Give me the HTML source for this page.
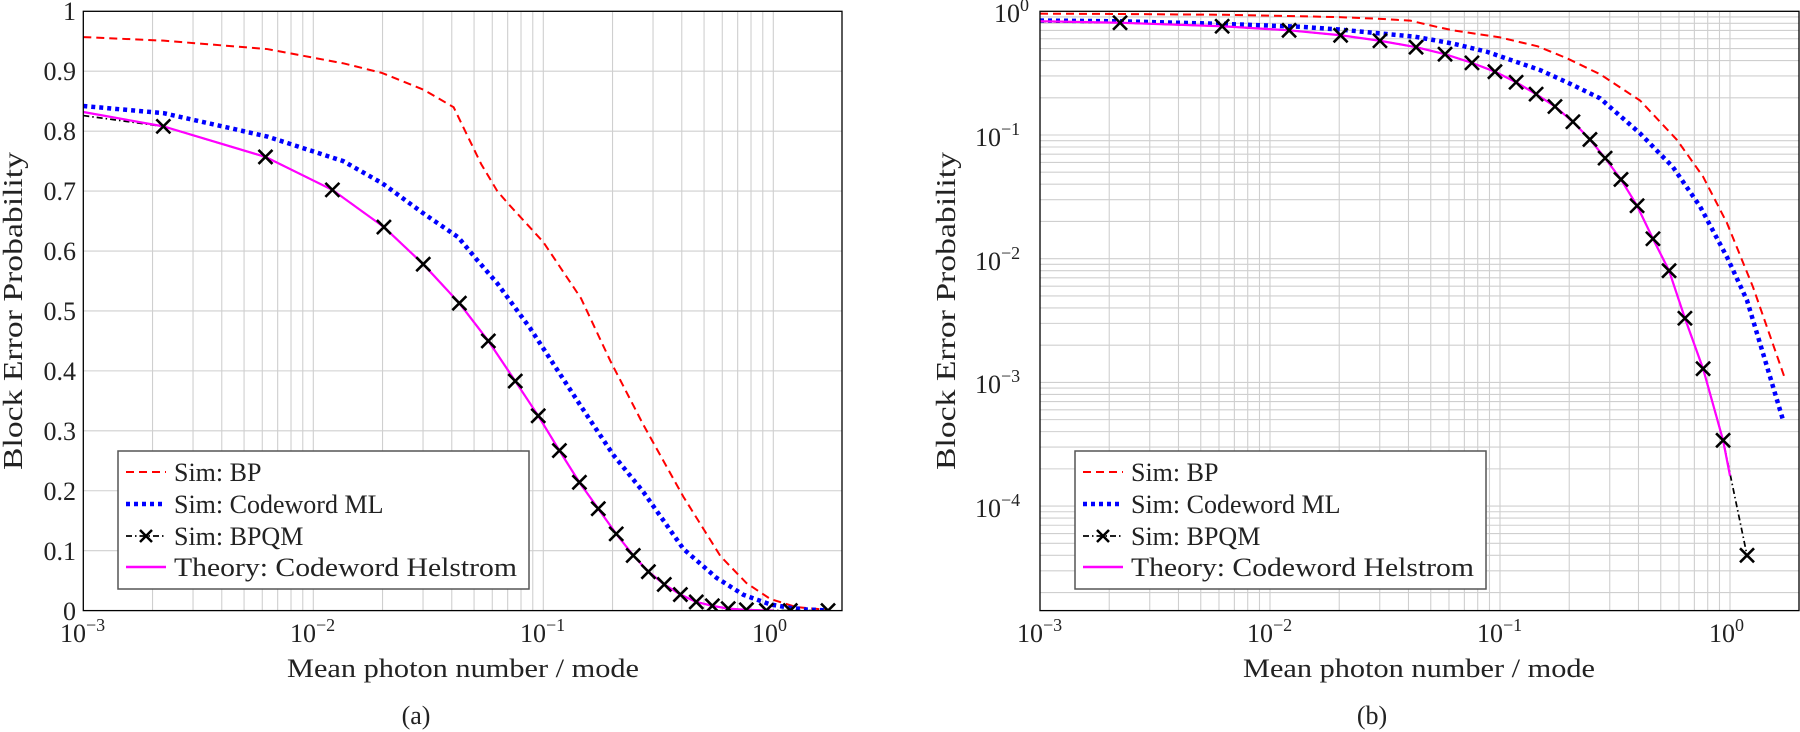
<!DOCTYPE html>
<html><head><meta charset="utf-8">
<style>
html,body{margin:0;padding:0;background:#fff;}
svg{display:block;}
text{font-family:"Liberation Serif","DejaVu Serif",serif;fill:#222;}
</style></head>
<body>
<svg id="s" width="1800" height="732" viewBox="0 0 1800 732" xmlns="http://www.w3.org/2000/svg">
<defs>
<clipPath id="cl"><rect x="83.3" y="11.3" width="758.7" height="599.3"/></clipPath>
<clipPath id="cr"><rect x="1040" y="11.3" width="759" height="599.3"/></clipPath>
</defs>
<g id="gridL" clip-path="url(#cl)"></g>
<g id="gridR" clip-path="url(#cr)"></g>
<g id="curvesL" clip-path="url(#cl)"></g>
<g id="curvesR" clip-path="url(#cr)"></g>
<rect x="83.3" y="11.3" width="758.7" height="599.3" fill="none" stroke="#000" stroke-width="1.3"/>
<rect x="1040" y="11.3" width="759" height="599.3" fill="none" stroke="#000" stroke-width="1.3"/>

<g font-size="26" text-anchor="end">
<text x="76" y="20">1</text>
<text x="76" y="80">0.9</text>
<text x="76" y="140">0.8</text>
<text x="76" y="200">0.7</text>
<text x="76" y="260">0.6</text>
<text x="76" y="320">0.5</text>
<text x="76" y="380">0.4</text>
<text x="76" y="440">0.3</text>
<text x="76" y="500">0.2</text>
<text x="76" y="560">0.1</text>
<text x="76" y="620">0</text>
</g>
<g font-size="26">
<text x="60" y="642">10<tspan font-size="18" dy="-11">−3</tspan></text>
<text x="290" y="642">10<tspan font-size="18" dy="-11">−2</tspan></text>
<text x="520" y="642">10<tspan font-size="18" dy="-11">−1</tspan></text>
<text x="752" y="642">10<tspan font-size="18" dy="-11">0</tspan></text>
<text x="1017" y="642">10<tspan font-size="18" dy="-11">−3</tspan></text>
<text x="1247" y="642">10<tspan font-size="18" dy="-11">−2</tspan></text>
<text x="1477" y="642">10<tspan font-size="18" dy="-11">−1</tspan></text>
<text x="1709" y="642">10<tspan font-size="18" dy="-11">0</tspan></text>
</g>
<g font-size="26">
<text x="994" y="22">10<tspan font-size="18" dy="-11">0</tspan></text>
<text x="975" y="146">10<tspan font-size="18" dy="-11">−1</tspan></text>
<text x="975" y="270">10<tspan font-size="18" dy="-11">−2</tspan></text>
<text x="975" y="393">10<tspan font-size="18" dy="-11">−3</tspan></text>
<text x="975" y="517">10<tspan font-size="18" dy="-11">−4</tspan></text>
</g>
<g font-size="26">
<text x="463" y="677" text-anchor="middle" textLength="352" lengthAdjust="spacingAndGlyphs">Mean photon number / mode</text>
<text x="1419" y="677" text-anchor="middle" textLength="352" lengthAdjust="spacingAndGlyphs">Mean photon number / mode</text>
<text transform="translate(22,311) rotate(-90)" text-anchor="middle" font-size="27" textLength="318" lengthAdjust="spacingAndGlyphs">Block Error Probability</text>
<text transform="translate(955,311) rotate(-90)" text-anchor="middle" font-size="27" textLength="318" lengthAdjust="spacingAndGlyphs">Block Error Probability</text>
<text x="416" y="724" text-anchor="middle">(a)</text>
<text x="1372" y="724" text-anchor="middle">(b)</text>
</g>

<g id="legL">
<rect x="118" y="451" width="411" height="138" fill="#fff" stroke="#555" stroke-width="1.5"/>
<line x1="126" y1="472" x2="166" y2="472" stroke="#f00" stroke-width="2" stroke-dasharray="8 5"/>
<line x1="126" y1="504" x2="166" y2="504" stroke="#00f" stroke-width="4.5" stroke-dasharray="4 4"/>
<line x1="126" y1="536" x2="166" y2="536" stroke="#000" stroke-width="1.7" stroke-dasharray="6 3 1.5 3"/>
<path d="M140 530 l12 12 M152 530 l-12 12" stroke="#000" stroke-width="2.5"/>
<line x1="126" y1="567" x2="166" y2="567" stroke="#f0f" stroke-width="2.5"/>
<g font-size="26">
<text x="174" y="481">Sim: BP</text>
<text x="174" y="513">Sim: Codeword ML</text>
<text x="174" y="545">Sim: BPQM</text>
<text x="174" y="576" textLength="343" lengthAdjust="spacingAndGlyphs">Theory: Codeword Helstrom</text>
</g>
</g>
<g id="legR">
<rect x="1075" y="451" width="411" height="138" fill="#fff" stroke="#555" stroke-width="1.5"/>
<line x1="1083" y1="472" x2="1123" y2="472" stroke="#f00" stroke-width="2" stroke-dasharray="8 5"/>
<line x1="1083" y1="504" x2="1123" y2="504" stroke="#00f" stroke-width="4.5" stroke-dasharray="4 4"/>
<line x1="1083" y1="536" x2="1123" y2="536" stroke="#000" stroke-width="1.7" stroke-dasharray="6 3 1.5 3"/>
<path d="M1097 530 l12 12 M1109 530 l-12 12" stroke="#000" stroke-width="2.5"/>
<line x1="1083" y1="567" x2="1123" y2="567" stroke="#f0f" stroke-width="2.5"/>
<g font-size="26">
<text x="1131" y="481">Sim: BP</text>
<text x="1131" y="513">Sim: Codeword ML</text>
<text x="1131" y="545">Sim: BPQM</text>
<text x="1131" y="576" textLength="343" lengthAdjust="spacingAndGlyphs">Theory: Codeword Helstrom</text>
</g>
</g>
</svg>
<script>
(function(){
var NS="http://www.w3.org/2000/svg";
function el(p,t,a){var e=document.createElementNS(NS,t);for(var k in a)e.setAttribute(k,a[k]);p.appendChild(e);return e;}
var DEC=230, TOP=11.3, BOT=610.6;
function XL(l){return 83.3+(l+3)*DEC;}
function XR(l){return 1040+(l+3)*DEC;}
function YL(v){return BOT-v*599.3;}
function YR(v){return TOP-Math.log10(Math.max(v,1e-9))*123.7;}
var gL=document.getElementById('gridL'),gR=document.getElementById('gridR');
var gc="#cfcfcf";
for(var d=-3;d<=0;d++){for(var m=1;m<=9;m++){var l=d+Math.log10(m);
 el(gL,'line',{x1:XL(l),x2:XL(l),y1:TOP,y2:BOT,stroke:gc,'stroke-width':1.1});
 el(gR,'line',{x1:XR(l),x2:XR(l),y1:TOP,y2:BOT,stroke:gc,'stroke-width':1.1});}}
for(var i=1;i<10;i++){var y=YL(i/10);el(gL,'line',{x1:83.3,x2:842,y1:y,y2:y,stroke:gc,'stroke-width':1.1});}
for(var d=-5;d<=0;d++){for(var m=1;m<=9;m++){var y=YR(m*Math.pow(10,d));
 el(gR,'line',{x1:1040,x2:1799,y1:y,y2:y,stroke:gc,'stroke-width':1.1});}}
var BP=[[-3,0.957],[-2.65,0.951],[-2.2,0.937],[-1.867,0.913],[-1.70,0.897],[-1.52,0.869],[-1.39,0.84],[-1.27,0.745],[-1.2,0.70],[-1.155,0.680],[-1.0,0.615],[-0.836,0.521],[-0.709,0.417],[-0.565,0.31],[-0.391,0.19],[-0.23,0.091],[-0.117,0.046],[-0.013,0.0194],[0.1,0.0059],[0.24,0.00106]];
var ML=[[-3,0.842],[-2.65,0.83],[-2.2,0.791],[-1.87,0.75],[-1.70,0.713],[-1.522,0.663],[-1.37,0.623],[-1.29,0.586],[-1.2,0.546],[-1.057,0.471],[-0.826,0.335],[-0.696,0.26],[-0.565,0.198],[-0.391,0.103],[-0.248,0.055],[-0.13,0.0264],[-0.013,0.0103],[0.074,0.0046],[0.143,0.00173],[0.23,0.0005]];
var MK=[[-2.652,0.808],[-2.208,0.757],[-1.917,0.702],[-1.693,0.640],[-1.522,0.578],[-1.365,0.513],[-1.239,0.450],[-1.122,0.383],[-1.022,0.325],[-0.930,0.267],[-0.843,0.214],[-0.761,0.170],[-0.683,0.128],[-0.609,0.092],[-0.543,0.065],[-0.474,0.0437],[-0.404,0.0268],[-0.335,0.0145],[-0.265,0.0080],[-0.196,0.0033],[-0.117,0.00129],[-0.030,0.00034],[0.074,0.00004],[0.238,0.000001]];
var TH=[[-3,0.832]].concat(MK.slice(0,22)).concat([[0.0,0.000176]]);
function path(pts,X,Y){return pts.map(function(p,i){return (i?'L':'M')+X(p[0]).toFixed(2)+' '+Y(p[1]).toFixed(2);}).join(' ');}
function draw(g,X,Y,mk){
 var BQ=[[-3,0.826]].concat(mk);
 el(g,'path',{d:path(BP,X,Y),fill:'none',stroke:'#f00','stroke-width':2,'stroke-dasharray':'8 5'});
 el(g,'path',{d:path(ML,X,Y),fill:'none',stroke:'#00f','stroke-width':4.5,'stroke-dasharray':'4 4'});
 el(g,'path',{d:path(BQ,X,Y),fill:'none',stroke:'#000','stroke-width':1.7,'stroke-dasharray':'6 3 1.5 3'});
 el(g,'path',{d:path(TH,X,Y),fill:'none',stroke:'#f0f','stroke-width':2.2});
 var d='';mk.forEach(function(p){var x=X(p[0]),y=Y(p[1]);d+='M'+(x-7)+' '+(y-7)+'l14 14M'+(x+7)+' '+(y-7)+'l-14 14';});
 el(g,'path',{d:d,stroke:'#000','stroke-width':2.6,fill:'none'});
}
draw(document.getElementById('curvesL'),XL,YL,MK);
draw(document.getElementById('curvesR'),XR,YR,MK.slice(0,23));
})();
</script>
</body></html>
